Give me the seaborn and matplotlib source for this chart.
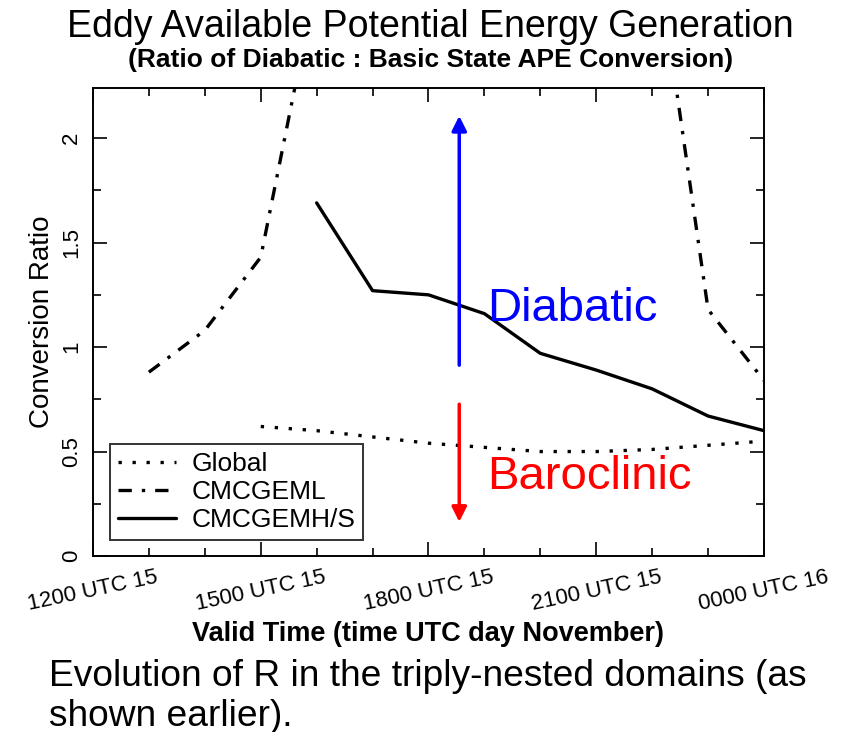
import matplotlib
matplotlib.use('Agg')
import matplotlib.pyplot as plt
from matplotlib.ticker import MultipleLocator, FuncFormatter
import seaborn as sns

# Data (x = hour UTC, 24 = 0000 UTC 16)
global_hours = [15, 16, 17, 18, 19, 20, 21, 22, 23, 24]
global_ratio = [0.62, 0.60, 0.57, 0.54, 0.52, 0.50, 0.50, 0.51, 0.53, 0.55]

gemL_hours = [13, 14, 15, 16, 17, 18, 19, 20, 21, 22, 23, 24]
gemL_ratio = [0.88, 1.08, 1.43, 2.76, 3.3, 3.7, 3.9, 3.8, 3.5, 3.04, 1.18, 0.84]

gemHS_hours = [16, 17, 18, 19, 20, 21, 22, 23, 24]
gemHS_ratio = [1.69, 1.27, 1.25, 1.16, 0.97, 0.89, 0.80, 0.67, 0.60]

tick_hours = [12, 15, 18, 21, 24]
tick_labels = ['1200 UTC 15', '1500 UTC 15', '1800 UTC 15', '2100 UTC 15', '0000 UTC 16']

sns.set_style('ticks')
plt.rcParams['font.family'] = ['Liberation Sans', 'DejaVu Sans']
plt.rcParams.update({
    'text.color': 'black',
    'axes.labelcolor': 'black',
    'xtick.color': 'black',
    'ytick.color': 'black',
})

fig = plt.figure(figsize=(8.5, 7.32), dpi=100)
ax = fig.add_axes([0.1094, 0.2404, 0.7894, 0.6394])

sns.lineplot(x=global_hours, y=global_ratio, ax=ax, color='black', lw=2.4,
             linestyle=(0, (1, 3.2)), label='Global')
sns.lineplot(x=gemL_hours, y=gemL_ratio, ax=ax, color='black', lw=2.4,
             linestyle=(0, (4, 3, 1, 3)), label='CMCGEML')
sns.lineplot(x=gemHS_hours, y=gemHS_ratio, ax=ax, color='black', lw=2.4,
             linestyle='-', label='CMCGEMH/S')

ax.set_xlim(12, 24)
ax.set_ylim(0, 2.24)
ax.xaxis.set_minor_locator(MultipleLocator(1))
ax.yaxis.set_major_locator(MultipleLocator(0.5))
ax.yaxis.set_minor_locator(MultipleLocator(0.25))
ax.set_xticks(tick_hours)
ax.set_xticklabels(tick_labels, rotation=12, ha='center', fontsize=16)
ax.yaxis.set_major_formatter(FuncFormatter(lambda v, p: f'{v:g}'))
for lab in ax.get_yticklabels():
    lab.set_rotation(90)
    lab.set_va('center')
    lab.set_fontsize(16)
ax.tick_params(which='both', direction='in', top=True, right=True)
ax.tick_params(which='major', length=10, width=1.2, pad=8)
ax.tick_params(which='minor', length=6, width=1.2)
for s in ax.spines.values():
    s.set_color('black')
    s.set_linewidth(1.4)

ax.set_xlabel('Valid Time (time UTC day November)', fontsize=19.5, fontweight='bold', labelpad=4)
ax.set_ylabel('Conversion Ratio', fontsize=20, labelpad=4)

leg = ax.legend(loc='lower left', bbox_to_anchor=(0.025, 0.034), fontsize=19,
                frameon=True, fancybox=False, edgecolor='black', handlelength=2.2,
                borderpad=0.3, labelspacing=0.15, handletextpad=0.6, borderaxespad=0)
leg.get_frame().set_linewidth(1.4)

# Diabatic / Baroclinic arrows
ax.annotate('', xy=(18.55, 2.12), xytext=(18.55, 0.90),
            arrowprops=dict(arrowstyle='-|>', color='blue', lw=2.5, mutation_scale=22))
ax.annotate('', xy=(18.55, 0.15), xytext=(18.55, 0.74),
            arrowprops=dict(arrowstyle='-|>', color='red', lw=2.5, mutation_scale=22))
ax.text(19.05, 1.18, 'Diabatic', color='blue', fontsize=34, va='center')
ax.text(19.05, 0.38, 'Baroclinic', color='red', fontsize=34, va='center')

fig.text(0.506, 0.963, 'Eddy Available Potential Energy Generation', ha='center', va='center',
         fontsize=27)
fig.text(0.506, 0.918, '(Ratio of Diabatic : Basic State APE Conversion)', ha='center',
         va='center', fontsize=19, fontweight='bold')
fig.text(0.058, 0.049, 'Evolution of R in the triply-nested domains (as\nshown earlier).',
         ha='left', va='center', fontsize=26.7, linespacing=1.18)

fig.savefig('out.png', dpi=100, facecolor='white')
